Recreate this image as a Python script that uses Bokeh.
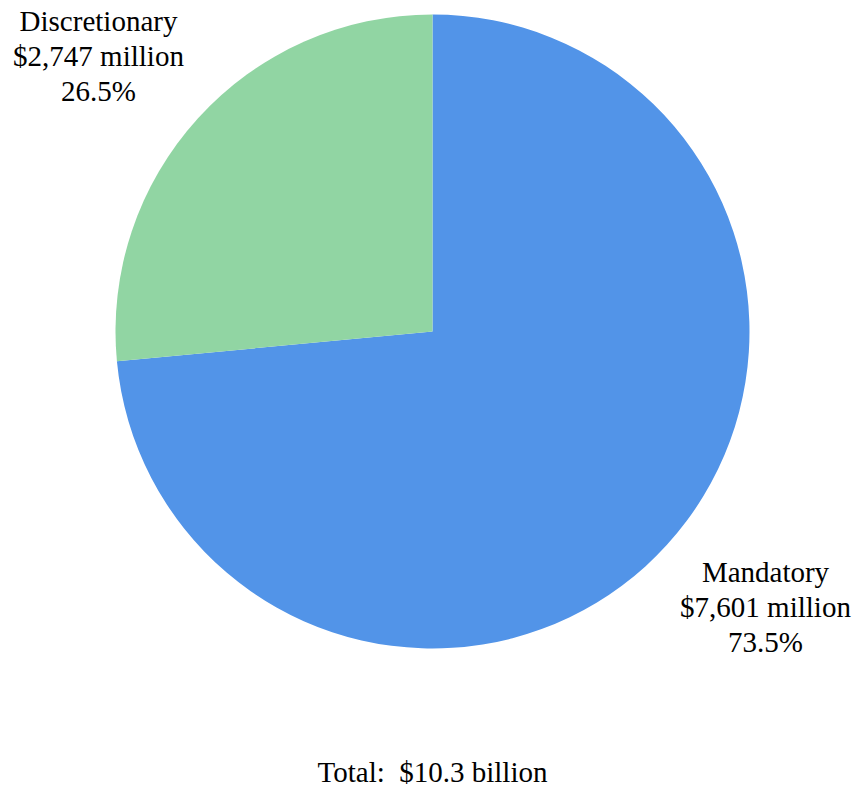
import math
from bokeh.plotting import figure
from bokeh.models import Range1d, ColumnDataSource
from bokeh.core.properties import value
from bokeh.embed import file_html
from bokeh.resources import INLINE

# ---- data ----
categories = ["Mandatory", "Discretionary"]
amounts = [7601, 2747]            # $ million
percents = [73.5, 26.5]
colors = ["#5294E8", "#91D5A3"]
total_label = "Total:\u00a0 $10.3 billion"

# ---- layout (screen px from the top-left of the picture) ----
W, H = 858, 789
cx, cy = 432, H - 331
R = 317
FONT = value("Liberation Serif")
FS = "29px"
LINE = 35

p = figure(width=W, height=H, output_backend="svg", toolbar_location=None,
           x_range=Range1d(0, W), y_range=Range1d(0, H), min_border=0)
p.axis.visible = False
p.grid.visible = False
p.outline_line_color = None
p.background_fill_color = "white"
p.border_fill_color = "white"

tot = sum(percents)
starts, ends = [], []
a = math.pi / 2
for pc in percents:
    starts.append(a)
    a -= pc / tot * 2 * math.pi
    ends.append(a)

src = ColumnDataSource(dict(x=[cx] * 2, y=[cy] * 2, start=starts, end=ends, color=colors))
p.wedge(x="x", y="y", radius=R, start_angle="start", end_angle="end", direction="clock",
        fill_color="color", line_color=None, source=src)

# label anchors (centre line), screen px from top
anchors = {"Mandatory": (765, 606), "Discretionary": (98, 55)}
tx, ty, tt = [], [], []
for c, amt, pc in zip(categories, amounts, percents):
    ax, ay = anchors[c]
    lines = [c, f"${amt:,} million", f"{pc}%"]
    for i, ln in enumerate(lines):
        tx.append(ax)
        ty.append(H - (ay + (i - 1) * LINE))
        tt.append(ln)
tx.append(cx)
ty.append(H - 771)
tt.append(total_label)

p.text(x=tx, y=ty, text=tt, text_font=FONT, text_font_size=FS, text_align="center",
       text_baseline="middle", text_color="black")

open("out.html", "w").write(file_html(p, INLINE))
